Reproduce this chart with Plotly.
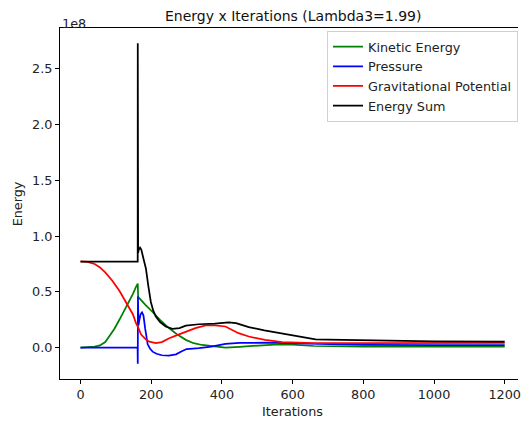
import plotly.graph_objects as go

# values in units of 1e8
kin_x = [0, 20, 40, 55, 70, 83, 96, 110, 125, 134, 148, 157, 162, 163, 170, 185, 204, 225, 251, 275, 298, 320, 344, 380, 410, 450, 500, 550, 600, 660, 800, 1000, 1200]
kin_y = [0, 0.002, 0.01, 0.02, 0.05, 0.11, 0.17, 0.25, 0.34, 0.39, 0.48, 0.545, 0.575, 0.455, 0.43, 0.38, 0.32, 0.25, 0.174, 0.115, 0.07, 0.04, 0.024, 0.008, 0.0, 0.008, 0.02, 0.028, 0.028, 0.015, 0.01, 0.01, 0.01]

pres_x = [0, 161.5, 162, 162.5, 164, 166, 170, 174, 178, 183, 190, 197, 204, 215, 230, 250, 270, 288, 300, 335, 370, 410, 450, 520, 600, 700, 800, 1000, 1200]
pres_y = [0, 0, -0.145, 0.46, 0.2, 0.24, 0.30, 0.317, 0.29, 0.17, 0.03, -0.01, -0.036, -0.055, -0.068, -0.072, -0.06, -0.03, -0.012, -0.004, 0.01, 0.035, 0.042, 0.045, 0.04, 0.03, 0.025, 0.022, 0.022]

grav_x = [0, 20, 40, 55, 70, 90, 110, 125, 134, 148, 157, 162, 171, 186, 195, 213, 230, 251, 275, 298, 325, 354, 380, 410, 447, 476, 522, 570, 616, 660, 800, 1000, 1200]
grav_y = [0.775, 0.77, 0.75, 0.72, 0.675, 0.60, 0.51, 0.43, 0.38, 0.30, 0.22, 0.19, 0.12, 0.07, 0.054, 0.04, 0.05, 0.084, 0.115, 0.144, 0.175, 0.2, 0.2, 0.19, 0.13, 0.1, 0.069, 0.05, 0.045, 0.04, 0.04, 0.04, 0.042]

sum_x = [0, 161.8, 162, 163, 165, 168.5, 172, 178, 185, 192, 199, 206, 213, 225, 241, 260, 280, 298, 335, 380, 419, 440, 476, 520, 569, 610, 653, 665, 700, 800, 900, 1000, 1200]
sum_y = [0.772, 0.772, 2.73, 0.85, 0.88, 0.897, 0.88, 0.80, 0.71, 0.55, 0.41, 0.33, 0.28, 0.23, 0.19, 0.168, 0.175, 0.197, 0.21, 0.215, 0.227, 0.22, 0.185, 0.155, 0.129, 0.105, 0.078, 0.075, 0.072, 0.065, 0.06, 0.057, 0.055]

series = [
    ("Kinetic Energy", kin_x, kin_y, "#008000"),
    ("Pressure", pres_x, pres_y, "#0000ff"),
    ("Gravitational Potential", grav_x, grav_y, "#ff0000"),
    ("Energy Sum", sum_x, sum_y, "#000000"),
]

x_ticks = [0, 200, 400, 600, 800, 1000, 1200]
y_ticks = [0.0, 0.5, 1.0, 1.5, 2.0, 2.5]

FONT = "DejaVu Sans"
FS = 12.8
fig = go.Figure()
for name, xs, ys, col in series:
    fig.add_trace(go.Scatter(x=xs, y=ys, mode="lines", name=name,
                             line=dict(color=col, width=1.75)))

fig.update_layout(
    width=521, height=423,
    margin=dict(l=60, r=0, t=28, b=44),
    paper_bgcolor="white", plot_bgcolor="white",
    font=dict(family=FONT, size=FS, color="#222"),
    showlegend=True,
    legend=dict(x=1.0, y=0.992, xanchor="right", yanchor="top",
                bgcolor="rgba(255,255,255,0.8)", bordercolor="#d0d0d0", borderwidth=1,
                font=dict(family=FONT, size=FS, color="#222"),
                itemwidth=30, tracegroupgap=0),
    xaxis=dict(range=[-58, 1237.6], tickvals=x_ticks, ticktext=[str(v) for v in x_ticks],
               showgrid=False, zeroline=False, showline=True, linecolor="black",
               linewidth=1, mirror=True, ticks="outside", ticklen=4, tickcolor="black",
               tickfont=dict(size=FS), ticklabeloverflow="allow"),
    yaxis=dict(range=[-0.281, 2.867], tickvals=y_ticks, ticktext=[f"{v:.1f}" for v in y_ticks],
               showgrid=False, zeroline=False, showline=True, linecolor="black",
               linewidth=1, ticks="outside", ticklen=4, tickcolor="black",
               tickfont=dict(size=FS)),
    annotations=[
        dict(text="Energy x Iterations (Lambda3=1.99)", xref="paper", yref="paper",
             x=0.5087, y=1.034, xanchor="center", yanchor="middle", showarrow=False,
             font=dict(family=FONT, size=14, color="#111")),
        dict(text="1e8", xref="paper", yref="paper", x=0.0, y=1.014, xanchor="left",
             yanchor="middle", showarrow=False, font=dict(size=FS, color="#222")),
        dict(text="Iterations", xref="paper", yref="paper", x=0.5087, y=-0.093,
             xanchor="center", yanchor="middle", showarrow=False, font=dict(size=FS, color="#222")),
        dict(text="Energy", xref="paper", yref="paper", x=-0.092, y=0.5, textangle=-90,
             xanchor="center", yanchor="middle", showarrow=False, font=dict(size=FS, color="#222")),
    ],
)
fig.write_html("out.html")
